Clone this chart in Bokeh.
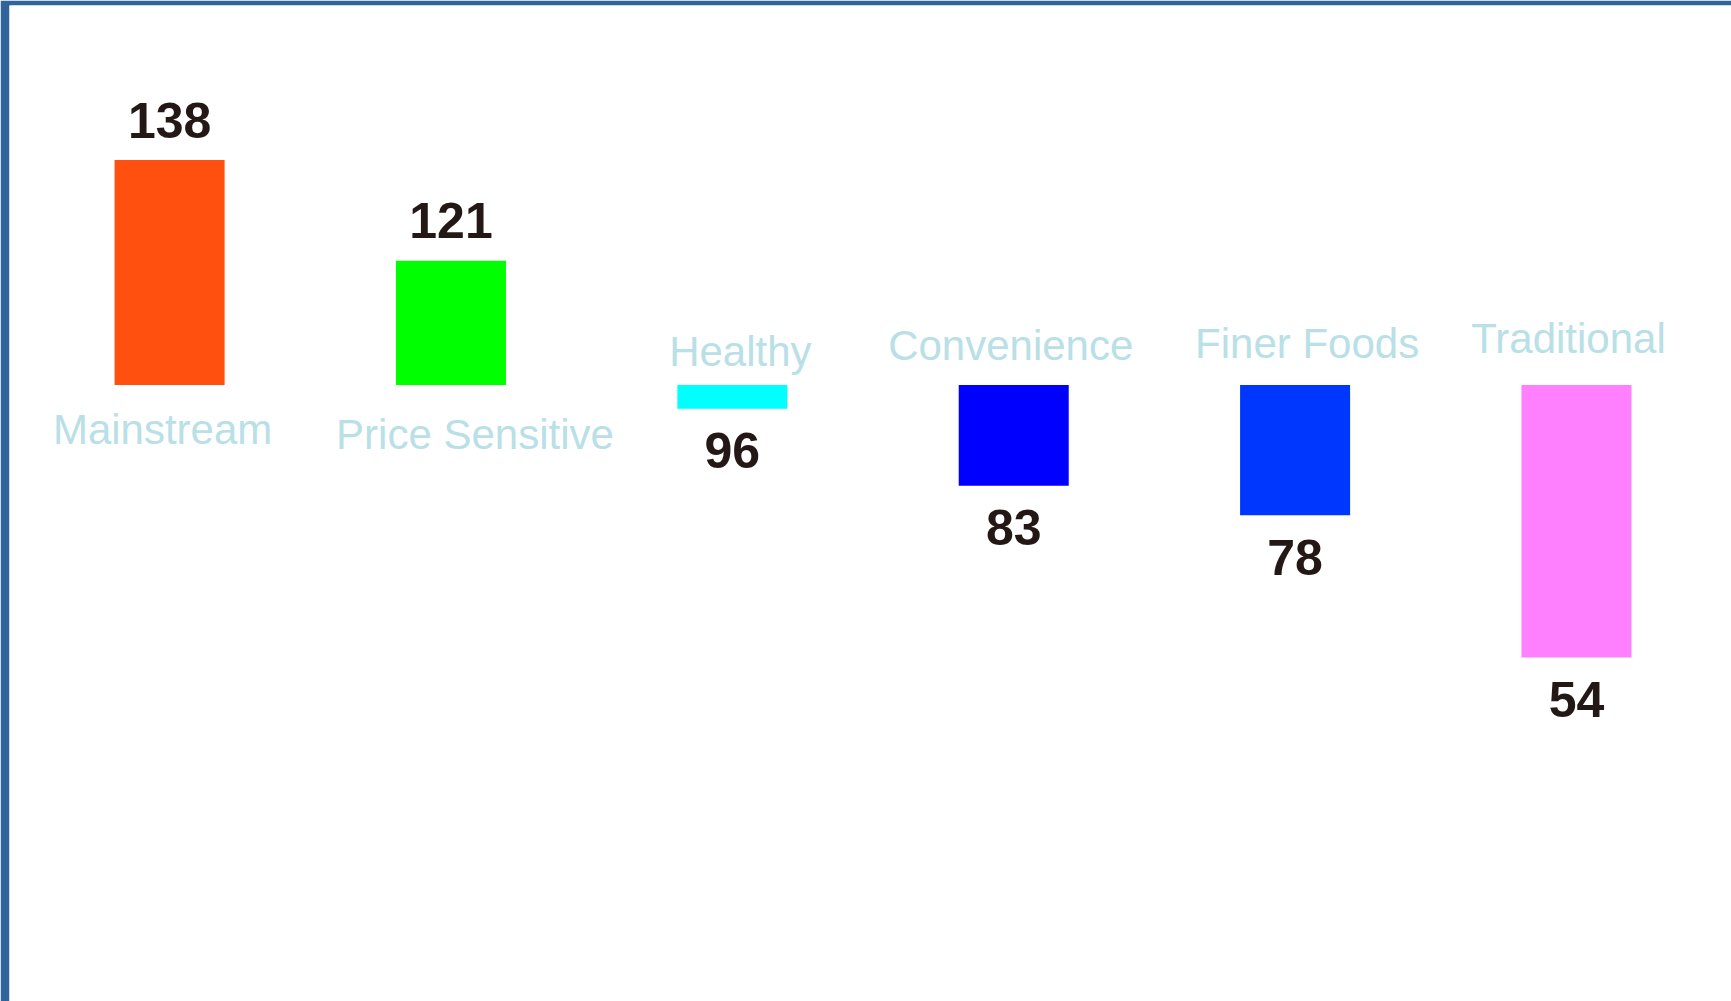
from bokeh.plotting import figure
from bokeh.models import Range1d, ColumnDataSource
from bokeh.core.properties import value
from bokeh.embed import file_html
from bokeh.resources import INLINE

categories = ["Mainstream", "Price Sensitive", "Healthy", "Convenience", "Finer Foods", "Traditional"]
index_values = [138, 121, 96, 83, 78, 54]
bar_colors = ["#ff5010", "#00ff00", "#00ffff", "#0000ff", "#0037ff", "#ff80ff"]
baseline = 100

# label nudges in screen pixels (styling only)
label_dx = [-7, 24, 8, -3, 12, -8]
label_dy = [44, 49, -34, -40, -42, -47]

xs = list(range(len(categories)))
up = [i for i, v in enumerate(index_values) if v >= baseline]
down = [i for i, v in enumerate(index_values) if v < baseline]

def make_src(idx):
    return ColumnDataSource(dict(
        x=[xs[i] for i in idx],
        top=[index_values[i] for i in idx],
        bottom=[baseline] * len(idx),
        color=[bar_colors[i] for i in idx],
        cat=[categories[i] for i in idx],
        lbl=[str(index_values[i]) for i in idx],
        dx=[label_dx[i] for i in idx],
        dy=[label_dy[i] for i in idx],
    ))

src_up = make_src(up)
src_down = make_src(down)

p = figure(width=1731, height=1001, output_backend="svg", toolbar_location=None,
           x_range=Range1d(-0.569, 5.551), y_range=Range1d(-4.1, 164.1),
           x_axis_location=None, y_axis_location=None,
           min_border_left=9, min_border_top=5, min_border_right=0, min_border_bottom=0)
p.border_fill_color = "#31659a"
p.background_fill_color = "white"
p.outline_line_color = None
p.xgrid.visible = False
p.ygrid.visible = False

for src in (src_up, src_down):
    p.vbar(x="x", top="top", bottom="bottom", width=0.391, fill_color="color",
           line_color=None, source=src)

val_font = value("Liberation Sans")
cat_font = value("Liberation Sans")
val_color = "#231815"
cat_color = "#b8e0e6"

# value labels
p.text(x="x", y="top", text="lbl", source=src_up, text_align="center",
       text_baseline="alphabetic", y_offset=-40, text_font=val_font,
       text_font_size="50px", text_font_style="bold", text_color=val_color)
p.text(x="x", y="top", text="lbl", source=src_down, text_align="center",
       text_baseline="alphabetic", y_offset=42, text_font=val_font,
       text_font_size="50px", text_font_style="bold", text_color=val_color)

# category labels
for src in (src_up, src_down):
    p.text(x="x", y="bottom", text="cat", source=src, text_align="center",
           text_baseline="alphabetic", x_offset="dx", y_offset="dy", text_font=cat_font,
           text_font_size="42px", text_color=cat_color)

open("out.html", "w").write(file_html(p, INLINE))
